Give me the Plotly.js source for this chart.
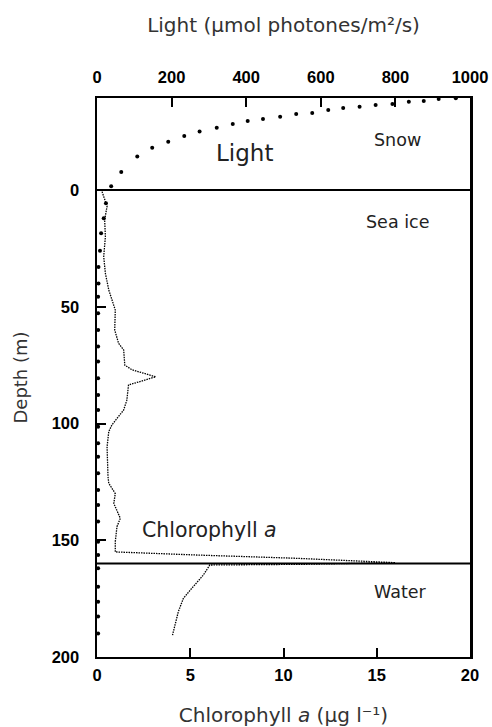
<!DOCTYPE html>
<html>
<head>
<meta charset="utf-8">
<script src="https://cdn.plot.ly/plotly-3.0.1.min.js"></script>
<style>html,body{margin:0;padding:0;background:#fff;}#chart{width:492px;height:727px;}</style>
</head>
<body>
<div id="chart"></div>
<script>
// Light profile (µmol photons/m2/s) vs depth (m); negative depth = snow
const lightDepth = [-39.3, -39.0, -38.1, -37.8, -36.8, -36.4, -35.7, -35.1, -34.3, -33.0, -32.5, -31.4, -30.4, -29.6, -28.3, -26.7, -25.0, -23.1, -20.7, -18.1, -14.3, -7.7, -1.6,
  5.7, 12.1, 18.5, 26.0, 33.0, 40.0, 45.7, 52.8, 60.0, 67.0, 73.5, 80.6, 87.8, 94.2, 101.4, 108.5, 114.2, 121.3, 128.5, 134.9, 142.0, 150.6, 156.3, 162.0, 169.9, 176.3, 182.7, 189.9];
const lightValue = [962, 916, 876, 836, 792, 747, 704, 660, 620, 577, 534, 491, 445, 404, 364, 321, 275, 234, 191, 148, 108, 65, 38,
  24, 18, 11, 8, 4, 4, 3, 3, 3, 3, 3, 3, 3, 3, 3, 3, 3, 3, 3, 3, 3, 3, 3, 3, 3, 3, 3, 3];

// Chlorophyll a (µg/l) vs depth (m)
const chlDepth = [0.7, 7, 12.8, 20, 28.5, 35.7, 42.8, 47, 51.4, 60, 65.7, 68.5, 75, 77, 80, 83.5, 90, 94.2, 100.6, 103.5, 110, 122.8, 125.6, 130, 134.2, 140.6, 144.2, 150.6, 155, 156.3, 157.7, 159.6, 160.3, 160.6, 164.9, 170.6, 174.9, 180.6, 186.3, 190.6];
const chlValue = [0.27, 0.54, 0.41, 0.45, 0.36, 0.45, 0.63, 0.8, 0.98, 0.95, 1.16, 1.43, 1.49, 1.88, 3.15, 1.69, 1.6, 1.43, 0.8, 0.63, 0.54, 0.59, 0.63, 0.98, 0.9, 1.25, 1.07, 0.98, 0.98, 5.25, 10.6, 16.0, 11.0, 6.05, 5.7, 5.08, 4.63, 4.36, 4.18, 4.05];

// Layer boundaries (depth, m): snow/ice surface and ice/water interface
const boundaries = [0, 160];

// In-plot labels
const labelText = ["Snow", "Light", "Sea ice", "Chlorophyll <i>a</i>", "Water"];
const labelChl = [16.1, 7.9, 16.1, 6.05, 16.25];
const labelDepth = [-21.4, -15.8, 13.7, 145.6, 172.2];
const labelSize = [17.5, 23, 17.5, 20.5, 17.5];

const chlTicks = [0, 5, 10, 15, 20];
const lightTicks = [0, 200, 400, 600, 800, 1000];
const depthTicks = [0, 50, 100, 150, 200];

const titleFont = {family: "DejaVu Sans, Verdana, sans-serif", size: 20, color: "#333"};
const tickFont = {family: "Liberation Sans, Arial, sans-serif", size: 16.5, color: "#000", weight: "bold"};

const traces = [
  {
    x: chlValue, y: chlDepth, xaxis: "x", yaxis: "y",
    mode: "lines", type: "scatter",
    line: {color: "#000", width: 1.3, dash: "1.5px,1px"},
    hoverinfo: "x+y", showlegend: false
  },
  {
    x: lightValue, y: lightDepth, xaxis: "x2", yaxis: "y",
    mode: "markers", type: "scatter", cliponaxis: false,
    marker: {color: "#000", size: 4},
    hoverinfo: "x+y", showlegend: false
  }
];

const shapes = boundaries.map(d => ({
  type: "line", xref: "paper", yref: "y", x0: 0, x1: 1, y0: d, y1: d,
  line: {color: "#000", width: 2}
}));

const annotations = labelText.map((t, i) => ({
  text: t, x: labelChl[i], y: labelDepth[i], xref: "x", yref: "y",
  showarrow: false, xanchor: "center", yanchor: "middle",
  font: {family: "DejaVu Sans, Verdana, sans-serif", size: labelSize[i], color: "#222"}
}));

const layout = {
  width: 492, height: 727,
  margin: {l: 97, r: 22, t: 98, b: 70, pad: 0},
  paper_bgcolor: "#fff", plot_bgcolor: "#fff",
  showlegend: false,
  xaxis: {
    range: [0, 20], tickvals: chlTicks, ticktext: chlTicks.map(String),
    ticks: "inside", ticklen: 9, tickwidth: 2, tickcolor: "#000",
    showline: true, linecolor: "#000", linewidth: 2,
    showgrid: false, zeroline: false, tickfont: tickFont,
    ticklabelstandoff: 2,
    title: {text: "Chlorophyll <i>a</i> (µg l⁻¹)", font: titleFont, standoff: 26}
  },
  xaxis2: {
    range: [0, 1000], overlaying: "x", side: "top", anchor: "y",
    tickvals: lightTicks, ticktext: lightTicks.map(String),
    ticks: "inside", ticklen: 9, tickwidth: 2, tickcolor: "#000",
    showline: true, linecolor: "#000", linewidth: 2,
    showgrid: false, zeroline: false, tickfont: tickFont,
    ticklabelstandoff: 6,
    title: {text: "Light (µmol photones/m²/s)", font: titleFont, standoff: 30}
  },
  yaxis: {
    range: [200, -39.4], tickvals: depthTicks, ticktext: depthTicks.map(String),
    ticks: "inside", ticklen: 9, tickwidth: 2, tickcolor: "#000",
    showline: true, linecolor: "#000", linewidth: 2.5, mirror: true,
    showgrid: false, zeroline: false, tickfont: tickFont,
    ticklabelstandoff: 12,
    title: {text: "Depth (m)", font: {family: "DejaVu Sans, Verdana, sans-serif", size: 18, color: "#333"}, standoff: 20}
  },
  shapes: shapes,
  annotations: annotations
};

Plotly.newPlot("chart", traces, layout, {displayModeBar: false, staticPlot: true});
</script>
</body>
</html>
